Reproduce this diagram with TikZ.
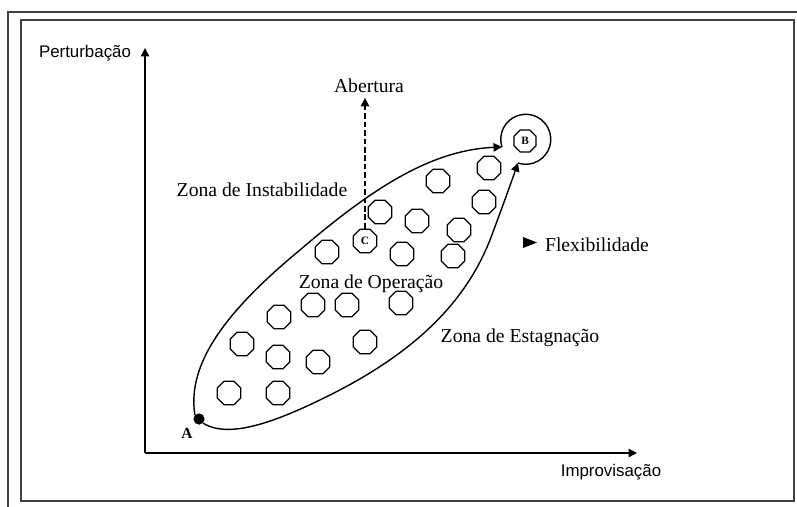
\documentclass[tikz,border=0pt]{standalone}
\usepackage{fontspec}
\setmainfont{Liberation Serif}
\newfontfamily\axisfont{Liberation Sans}
\usetikzlibrary{arrows.meta, positioning, shapes.geometric}

\tikzset{
  cel/.style={regular polygon, regular polygon sides=8, draw, line width=0.9pt,
    minimum size=0.64cm, inner sep=0pt},
  zona/.style={font=\fontsize{14}{16}\selectfont},
  eixo/.style={font=\axisfont\fontsize{12}{14}\selectfont},
  seta/.style={-{Triangle[length=6pt,width=6pt]}},
  letra/.style={font=\fontsize{8}{9}\selectfont\bfseries, inner sep=0pt}
}

\begin{document}
\begin{tikzpicture}[x=0.025cm, y=-0.025cm]
		\useasboundingbox (0,0) rectangle (797,507);
		% Moldura
		\draw[line width=1.4pt, black!75] (8,507) -- (8,12) -- (797,12);
		\draw[line width=1.4pt, black!75] (21,20) rectangle (794,501);
		
		% Eixos
		\coordinate (O) at (145,453);
		\coordinate (ytop) at (145,48);
		\coordinate (xend) at (637,453);
		\draw[line width=1pt, seta] (O) -- (ytop);
		\draw[line width=1pt, seta] (O) -- (xend);
		\node[eixo] (pert) at (85,53) {Perturbação};
		\node[eixo] (impr) at (611,472) {Improvisação};
		
		% Celulas
		\foreach \px/\py in {489/168, 438/181, 484/202, 380/212, 417/221, 459/230,
			327/252, 402/254, 453/256, 279/317, 313/305, 347/305, 401/303,
			242/344, 278/357, 318/362, 365/342, 229/393, 278/393}
			\node[cel] at (\px,\py) {};
		\node[cel] (C) at (365,241) {};
		\node[letra] at (C) {C};
		\node[cel, minimum size=0.6cm] (B) at (525,141) {};
		\node[letra] at (B) {B};
		
		% Ponto A
		\node[circle, fill, inner sep=0pt, minimum size=0.28cm] (A) at (199,419) {};
		\node[font=\fontsize{11}{12}\selectfont\bfseries, inner sep=0pt] (labA) at (187,433) {A};
		
		% Zona de operacao (contorno)
		\coordinate (tipT) at (502,147);
		\coordinate (tipR) at (518,163);
		\draw[line width=1pt, seta] (A.north west) .. controls (188,370) and (215,320) .. (300,250)
			.. controls (370,190) and (430,150) .. (tipT);
		\draw[line width=1pt] (tipT) arc[start angle=162, end angle=468, radius=25];
		\draw[line width=1pt, seta] (A.south east) .. controls (230,440) and (280,420) .. (330,395)
			.. controls (430,345) and (470,290) .. (490,240) .. controls (505,200) and (512,180) .. (tipR);
		
		% Abertura
		\node[zona] (abert) at (369,86) {Abertura};
		\draw[line width=1pt, dash pattern=on 4pt off 2pt, seta] (C.north) -- (C.north |- abert.south);
		
		% Rotulos das zonas
		\node[zona] (inst) at (262,190) {Zona de Instabilidade};
		\node[zona] (oper) at (371,284) {Zona de Operação};
		\node[zona] (estag) at (520,338) {Zona de Estagnação};
		\node[zona] (flex) at (597,245) {Flexibilidade};
		\fill (523,237) -- (537,242.5) -- (523,248) -- cycle;
	\end{tikzpicture}
\end{document}
